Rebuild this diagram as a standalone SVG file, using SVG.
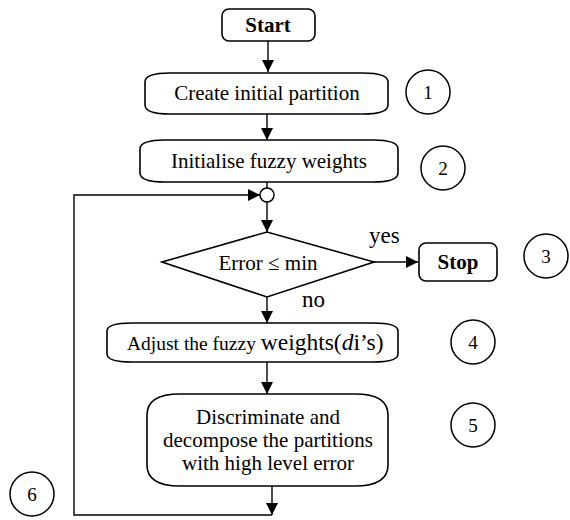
<svg xmlns="http://www.w3.org/2000/svg" width="570" height="520" viewBox="0 0 570 520">
<style>
.s{fill:#fff;stroke:#000;stroke-width:1.6}
.c{fill:none;stroke:#000;stroke-width:1.5}
.l{fill:none;stroke:#000;stroke-width:1.4}
text{font-family:"Liberation Serif","Times New Roman",serif;font-size:21px;fill:#000}
.t{text-anchor:middle}
.b{font-weight:bold}
.y{font-size:23px}
.n{font-size:19px;text-anchor:middle}
</style>
<defs>
<marker id="ah" viewBox="0 0 12 12" refX="12" refY="6" markerWidth="12" markerHeight="12" markerUnits="userSpaceOnUse" orient="auto">
<path d="M0,0 L12,6 L0,12 Z" fill="#000"/>
</marker>
</defs>
<g id="connectors">
<line class="l" x1="268" y1="41" x2="268" y2="72" marker-end="url(#ah)"/>
<line class="l" x1="267" y1="114" x2="267" y2="140" marker-end="url(#ah)"/>
<line class="l" x1="267" y1="182" x2="267" y2="188"/>
<line class="l" x1="267" y1="202" x2="267" y2="232" marker-end="url(#ah)"/>
<line class="l" x1="374" y1="262" x2="418" y2="262" marker-end="url(#ah)"/>
<line class="l" x1="267" y1="297" x2="267" y2="323" marker-end="url(#ah)"/>
<line class="l" x1="267" y1="362" x2="267" y2="394" marker-end="url(#ah)"/>
<line class="l" x1="272" y1="486" x2="272" y2="515" marker-end="url(#ah)"/>
<polyline class="l" points="272,515 74,515 74,195 260,195" marker-end="url(#ah)"/>
<circle class="c" cx="267" cy="195" r="7" fill="#fff"/>
<text class="y" x="369" y="243">yes</text>
<text class="y" x="302" y="307">no</text>
</g>
<g id="start">
<rect class="s" x="222" y="9" width="93" height="32" rx="7"/>
<text class="t b" x="268" y="32">Start</text>
</g>
<g id="create">
<path class="s" d="M145,82 Q145,73 170,73 L363,73 Q388,73 388,82 L388,105 Q388,114 363,114 L170,114 Q145,114 145,105 Z"/>
<text class="t" x="267" y="100">Create initial partition</text>
</g>
<g id="init">
<path class="s" d="M140,149 Q140,140 165,140 L373,140 Q398,140 398,149 L398,173 Q398,182 373,182 L165,182 Q140,182 140,173 Z"/>
<text class="t" x="269" y="168">Initialise fuzzy weights</text>
</g>
<g id="decision">
<polygon class="s" points="162,262 267,232 374,262 267,297"/>
<text class="t" x="268" y="270">Error ≤ min</text>
</g>
<g id="stop">
<rect class="s" x="419" y="243" width="78" height="38" rx="7"/>
<text class="t b" x="458" y="269">Stop</text>
</g>
<g id="adjust">
<path class="s" d="M107,331 Q107,323 132,323 L373,323 Q398,323 398,331 L398,354 Q398,362 373,362 L132,362 Q107,362 107,354 Z"/>
<text x="127" y="350"><tspan font-size="19.5">Adjust the fuzzy </tspan><tspan font-size="23.5">weights(<tspan font-style="italic">d</tspan>i’s)</tspan></text>
</g>
<g id="discriminate">
<path class="s" d="M147,415 Q147,394 180,394 L355,394 Q388,394 388,415 L388,465 Q388,486 355,486 L180,486 Q147,486 147,465 Z"/>
<text class="t" x="268" y="424">Discriminate and</text>
<text class="t" x="268" y="447">decompose the partitions</text>
<text class="t" x="268" y="470">with high level error</text>
</g>
<g id="label1"><circle class="c" cx="428" cy="92" r="22"/><text class="n" x="428" y="99">1</text></g>
<g id="label2"><circle class="c" cx="443" cy="168" r="22"/><text class="n" x="443" y="175">2</text></g>
<g id="label3"><circle class="c" cx="546" cy="256" r="22"/><text class="n" x="546" y="263">3</text></g>
<g id="label4"><circle class="c" cx="473" cy="342" r="22"/><text class="n" x="473" y="349">4</text></g>
<g id="label5"><circle class="c" cx="473" cy="425" r="22"/><text class="n" x="473" y="432">5</text></g>
<g id="label6"><circle class="c" cx="32" cy="494" r="22"/><text class="n" x="32" y="501">6</text></g>
</svg>
